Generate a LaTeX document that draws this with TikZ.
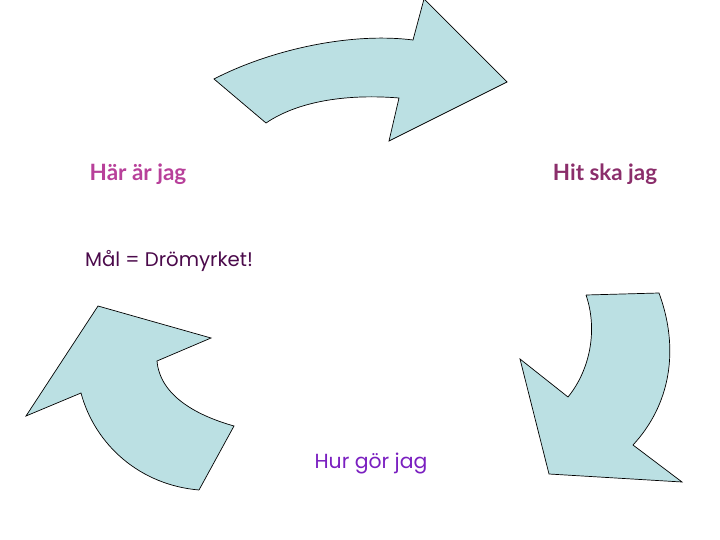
\documentclass[tikz,border=0pt]{standalone}
\usepackage{fontspec}
\setmainfont{Lato}
\newfontfamily\roundfont{Poppins}
\usepackage{tikz}
\definecolor{pil}{RGB}{187,224,227}
\definecolor{rosa}{RGB}{184,64,154}
\definecolor{vin}{RGB}{139,46,107}
\definecolor{plommon}{RGB}{75,10,75}
\definecolor{viol}{RGB}{122,31,192}
\tikzset{pilform/.style={fill=pil,draw=black,line width=0.7pt,line join=miter}}

\begin{document}
\begin{tikzpicture}[x=1pt,y=-1pt]
\useasboundingbox (0,0) rectangle (720,540);

% top arrow, bending to the right
\draw[pilform] (214,79) .. controls (270,50) and (350,32) .. (413,40)
  -- (424,-1) -- (507,82) -- (389,141) -- (399,98)
  .. controls (350,94) and (300,100) .. (266,123) -- cycle;

% right arrow, bending down
\draw[pilform] (586,295) -- (659,293)
  .. controls (680,350) and (670,405) .. (633,445)
  -- (682,482) -- (549,474) -- (520,359) -- (568,397)
  .. controls (590,370) and (598,330) .. (586,295);

% left arrow, bending up
\draw[pilform] (199,490) -- (234,426)
  .. controls (195,415) and (160,395) .. (157,361)
  -- (211,338) -- (98,306) -- (26,416) -- (81,393)
  .. controls (95,445) and (140,485) .. (199,490);

% texts
\node[text=rosa,font=\bfseries\fontsize{22.5}{26}\selectfont] (har) at (138,174) {Här är jag};
\node[text=vin,font=\bfseries\fontsize{22.4}{26}\selectfont] (hit) at (605,174) {Hit ska jag};
\node[text=plommon,font=\roundfont\fontsize{19.7}{23}\selectfont] (mal) at (169,261) {Mål = Drömyrket!};
\node[text=viol,font=\roundfont\fontsize{20.4}{24}\selectfont] (hur) at (371,463) {Hur gör jag};

\end{tikzpicture}
\end{document}
